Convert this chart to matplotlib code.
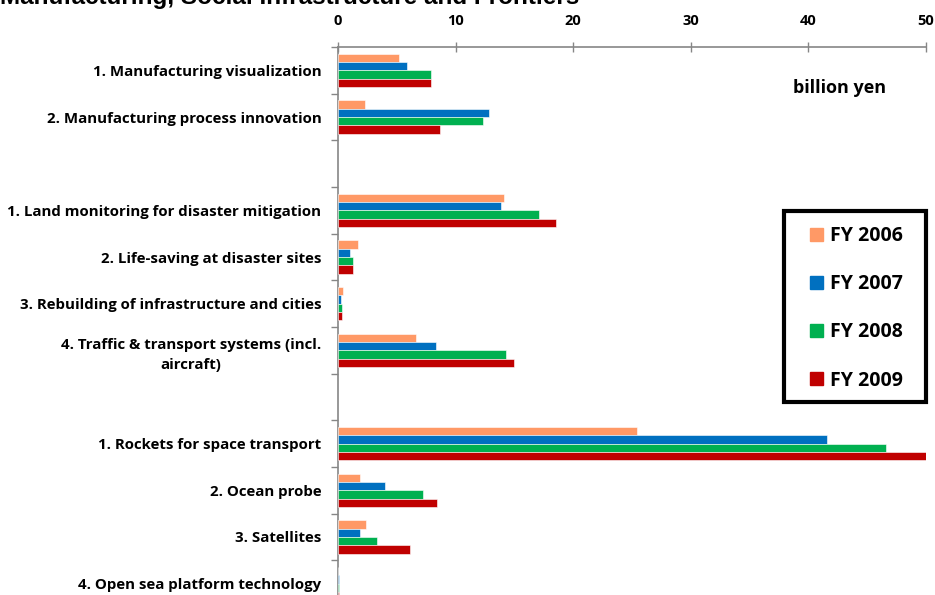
import matplotlib
matplotlib.use("Agg")
import matplotlib.pyplot as plt
import matplotlib.patches as mpatches
import numpy as np

# ── Data (billion yen) ───────────────────────────────────────────────────
categories = [
    "1. Manufacturing visualization",
    "2. Manufacturing process innovation",
    "",
    "1. Land monitoring for disaster mitigation",
    "2. Life-saving at disaster sites",
    "3. Rebuilding of infrastructure and cities",
    "4. Traffic & transport systems (incl.\naircraft)",
    "",
    "1. Rockets for space transport",
    "2. Ocean probe",
    "3. Satellites",
    "4. Open sea platform technology",
]
years = ["FY 2006", "FY 2007", "FY 2008", "FY 2009"]
nan = np.nan
fy2006 = [5.2, 2.3, nan, 14.1, 1.7, 0.4, 6.6, nan, 25.4, 1.9, 2.4, 0.0]
fy2007 = [5.9, 12.8, nan, 13.9, 1.0, 0.25, 8.3, nan, 41.6, 4.0, 1.85, 0.08]
fy2008 = [7.9, 12.3, nan, 17.1, 1.3, 0.35, 14.3, nan, 46.6, 7.2, 3.3, 0.08]
fy2009 = [7.9, 8.7, nan, 18.5, 1.25, 0.35, 15.0, nan, 50.4, 8.4, 6.1, 0.08]
series = [fy2006, fy2007, fy2008, fy2009]
colors = ["#FF9966", "#0070C0", "#00B050", "#C00000"]

LABEL_FONT = "Open Sans"
AXIS_GRAY = "#868686"

fig = plt.figure(figsize=(9.35, 5.95), dpi=100, facecolor="white")
# axes runs past the bottom edge, the last row is only partly shown
ax = fig.add_axes([338 / 935, 1 - 607 / 595, 588 / 935, 560 / 595])

y = np.arange(len(categories))
bh = 0.18
for k, (vals, c) in enumerate(zip(series, colors)):
    ax.barh(y + (k - 1.5) * bh, vals, bh, color=c, edgecolor="white",
            linewidth=0.4, label=years[k], zorder=3)

ax.set_xlim(0, 50)
ax.set_ylim(len(categories) - 0.5, -0.5)

# x axis along the top
ax.xaxis.tick_top()
ax.set_xticks(np.arange(0, 51, 10))
ax.tick_params(axis="x", direction="inout", length=7, width=1, color=AXIS_GRAY,
               pad=10, labelsize=10.5)
for t in ax.get_xticklabels():
    t.set_fontfamily(LABEL_FONT)
    t.set_fontweight("bold")

# category labels centred in each slot, tick marks on slot boundaries
ax.set_yticks(y)
ax.set_yticklabels(categories, fontfamily=LABEL_FONT, fontweight="bold",
                   fontsize=10.8, multialignment="center", linespacing=1.6)
ax.tick_params(axis="y", which="major", length=0, pad=12)
ax.set_yticks(np.arange(-0.5, len(categories) + 0.5, 1), minor=True)
ax.tick_params(axis="y", which="minor", length=5, width=1, color=AXIS_GRAY)

for side in ["right", "bottom"]:
    ax.spines[side].set_visible(False)
for side in ["top", "left"]:
    ax.spines[side].set_color(AXIS_GRAY)
    ax.spines[side].set_linewidth(1.2)

fig.text(0.898, 1 - 88 / 595, "billion yen", ha="center", va="center",
         fontfamily=LABEL_FONT, fontweight="bold", fontsize=13)

# title, clipped by the top edge
fig.text(0.0, 1 - 4 / 595, "Manufacturing, Social Infrastructure and Frontiers",
         ha="left", va="baseline", fontfamily="Liberation Sans",
         fontweight="bold", fontsize=17.5)

# legend with a heavy frame
handles = [mpatches.Patch(color=c, label=lab) for c, lab in zip(colors, years)]
ax.legend(handles=handles, loc="upper left", frameon=False,
          bbox_to_anchor=(810 / 935, 1 - 226 / 595),
          bbox_transform=fig.transFigure, borderaxespad=0, borderpad=0,
          handlelength=0.65, handleheight=0.65, handletextpad=0.4,
          labelspacing=1.45, prop={"family": LABEL_FONT, "weight": "bold",
                                   "size": 14})
fig.patches.append(mpatches.Rectangle(
    (784 / 935, 1 - 402 / 595), 142 / 935, 191 / 595,
    transform=fig.transFigure, fill=False, edgecolor="black", linewidth=3,
    zorder=5))

fig.savefig("out.png", dpi=100, facecolor="white")
